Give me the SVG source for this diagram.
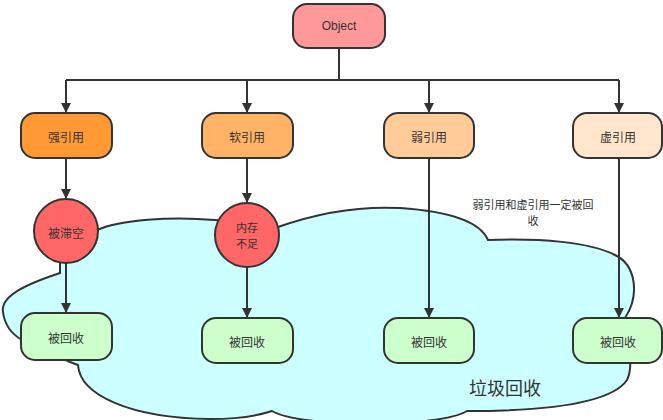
<svg xmlns="http://www.w3.org/2000/svg" width="663" height="420" viewBox="0 0 663 420">
  <defs>
    <marker id="arrow" viewBox="0 0 10 10" refX="10" refY="5" markerWidth="10" markerHeight="10" markerUnits="userSpaceOnUse" orient="auto">
      <path d="M0,0 L10,5 L0,10 Z" fill="#333333"/>
    </marker>
    <style>
      .box { stroke: #333333; stroke-width: 2; }
      .circ { fill: #FF6666; stroke: #333333; stroke-width: 2; }
      .edge { fill: none; stroke: #333333; stroke-width: 2; }
      .lbl { font-family: "Noto Sans CJK SC", "Noto Sans", "Liberation Sans", sans-serif; font-size: 12px; fill: #333333; text-anchor: middle; dominant-baseline: central; }
      .sm { font-size: 11px; }
      .big { font-size: 18px; }
    </style>
  </defs>

  <rect width="663" height="420" fill="#ffffff"/>

  <!-- garbage-collection cloud -->
  <g id="cloud">
    <path d="M 60 262 L 60 273 C 30 283, 0 295, 3 312 C 5 328, 15 336, 22 340 L 70 362 L 78 365 C 80 395, 130 418, 210 419 C 240 419, 260 415, 272 411 C 300 428, 440 428, 467 411 C 540 411, 610 405, 627 380 C 632 370, 630 360, 630 355 L 625 318 C 640 295, 636 265, 615 255 C 590 242, 540 238, 488 240 C 482 226, 460 212, 400 208 C 360 206, 320 212, 278 227 L 215 220 C 170 216, 120 220, 97 230 Z" fill="#CCFFFF" stroke="#333333" stroke-width="2"/>
    <text class="lbl big" x="505" y="387">垃圾回收</text>
  </g>

  <!-- connectors -->
  <g id="connectors">
    <path class="edge" d="M 339 48 L 339 80 M 66 80 L 619 80"/>
    <path class="edge" d="M 66 80 L 66 113" marker-end="url(#arrow)"/>
    <path class="edge" d="M 247 80 L 247 113" marker-end="url(#arrow)"/>
    <path class="edge" d="M 429 80 L 429 113" marker-end="url(#arrow)"/>
    <path class="edge" d="M 619 80 L 619 113" marker-end="url(#arrow)"/>
    <path class="edge" d="M 66 158 L 66 199" marker-end="url(#arrow)"/>
    <path class="edge" d="M 66 263 L 66 313" marker-end="url(#arrow)"/>
    <path class="edge" d="M 247 158 L 247 203" marker-end="url(#arrow)"/>
    <path class="edge" d="M 247 267 L 247 318" marker-end="url(#arrow)"/>
    <path class="edge" d="M 429 158 L 429 318" marker-end="url(#arrow)"/>
    <path class="edge" d="M 619 158 L 619 318" marker-end="url(#arrow)"/>
  </g>

  <g id="object">
    <rect class="box" x="293" y="4" width="92" height="44" rx="14" fill="#FF9999"/>
    <text class="lbl" x="339" y="26" style="font-family: 'Liberation Sans', sans-serif;">Object</text>
  </g>

  <g id="strong-ref">
    <rect class="box" x="21" y="113" width="91" height="45" rx="14" fill="#FF9933"/>
    <text class="lbl" x="66" y="136">强引用</text>
  </g>
  <g id="soft-ref">
    <rect class="box" x="202" y="113" width="91" height="45" rx="14" fill="#FFB366"/>
    <text class="lbl" x="247" y="136">软引用</text>
  </g>
  <g id="weak-ref">
    <rect class="box" x="384" y="113" width="90" height="45" rx="14" fill="#FFCC99"/>
    <text class="lbl" x="429" y="136">弱引用</text>
  </g>
  <g id="phantom-ref">
    <rect class="box" x="573" y="113" width="89" height="45" rx="14" fill="#FFE6CC"/>
    <text class="lbl" x="618" y="136">虚引用</text>
  </g>

  <g id="set-null">
    <circle class="circ" cx="66" cy="231" r="32"/>
    <text class="lbl" x="66" y="232">被滞空</text>
  </g>
  <g id="low-memory">
    <circle class="circ" cx="247" cy="235" r="32"/>
    <text class="lbl sm" x="247" y="227">内存</text>
    <text class="lbl sm" x="247" y="243">不足</text>
  </g>

  <g id="collected-1">
    <rect class="box" x="21" y="313" width="91" height="47" rx="14" fill="#CCFFCC"/>
    <text class="lbl" x="66" y="337">被回收</text>
  </g>
  <g id="collected-2">
    <rect class="box" x="202" y="318" width="91" height="45" rx="14" fill="#CCFFCC"/>
    <text class="lbl" x="247" y="341">被回收</text>
  </g>
  <g id="collected-3">
    <rect class="box" x="384" y="318" width="90" height="45" rx="14" fill="#CCFFCC"/>
    <text class="lbl" x="429" y="341">被回收</text>
  </g>
  <g id="collected-4">
    <rect class="box" x="573" y="318" width="89" height="45" rx="14" fill="#CCFFCC"/>
    <text class="lbl" x="618" y="341">被回收</text>
  </g>

  <g id="note">
    <text class="lbl sm" x="533" y="204">弱引用和虚引用一定被回</text>
    <text class="lbl sm" x="533" y="220">收</text>
  </g>
</svg>
